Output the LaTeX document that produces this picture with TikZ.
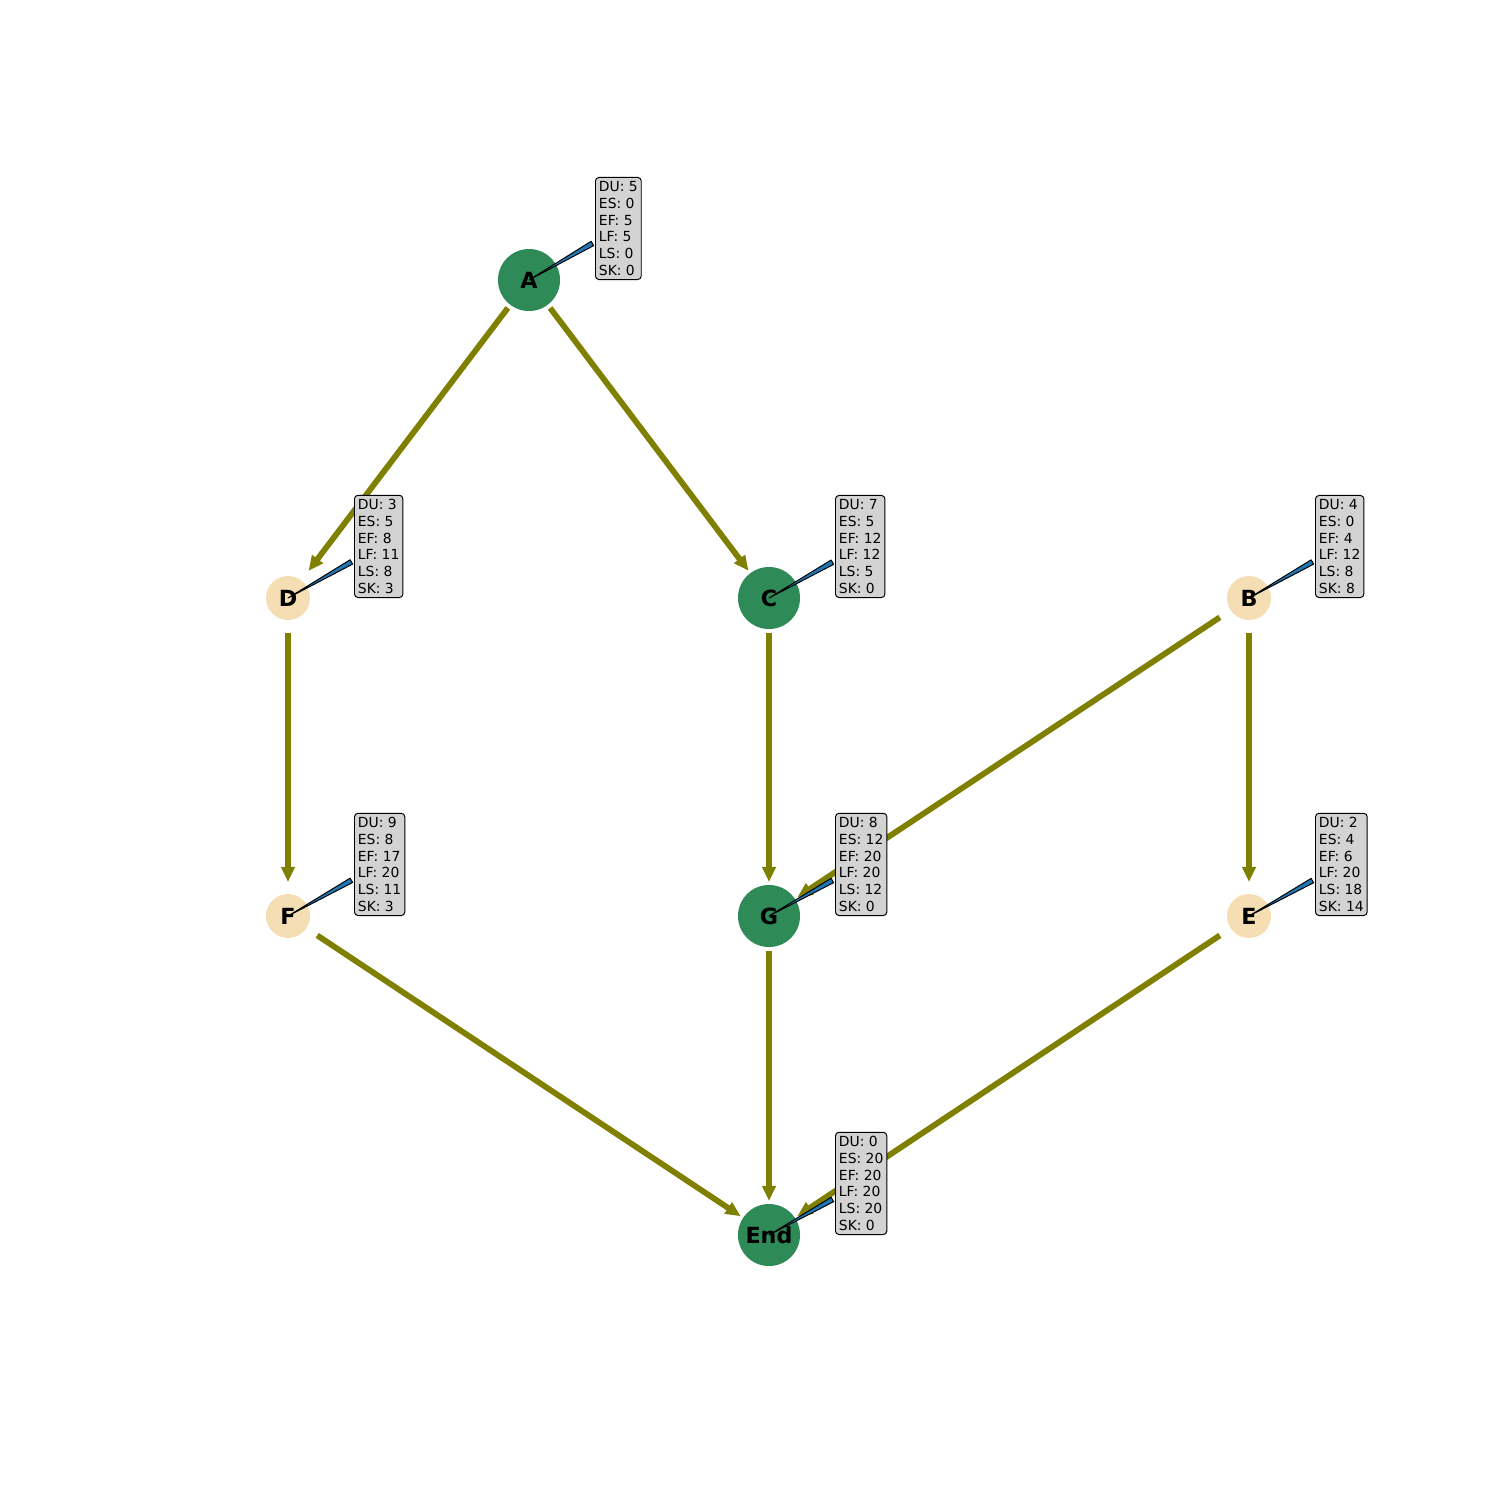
\documentclass[tikz,border=0pt]{standalone}
\usepackage{fontspec}
\setmainfont{DejaVu Sans}
\usetikzlibrary{arrows.meta,calc}
\definecolor{critc}{HTML}{2E8B57}
\definecolor{noncritc}{HTML}{F5DEB3}
\definecolor{edgec}{HTML}{808000}
\definecolor{infobg}{HTML}{D3D3D3}
\definecolor{wedgec}{HTML}{1F77B4}
\begin{document}
\begin{tikzpicture}[x=0.01in,y=-0.01in,
  critnode/.style={circle,fill=critc,minimum size=0.62in,inner sep=0pt,font=\fontsize{16bp}{19bp}\selectfont\bfseries},
  noncritnode/.style={circle,fill=noncritc,minimum size=0.44in,inner sep=0pt,font=\fontsize{16bp}{19bp}\selectfont\bfseries},
  flow/.style={draw=edgec,line width=0.058in,-{Triangle[length=0.15in,width=0.13in]},shorten >=0.34in,shorten <=0.35in},
  infobox/.style={draw=black,fill=infobg,rounded corners=2.5bp,line width=0.7bp,align=left,anchor=south west,inner xsep=2.5bp,inner ysep=3bp,font=\fontsize{10bp}{12bp}\selectfont},
  wedgeline/.style={fill=wedgec,draw=black,line width=0.7bp,line join=round}
]
\useasboundingbox (0,0) rectangle (1500,1500);
\fill[white] (0,0) rectangle (1500,1500);

% nodes
\node[critnode] (A) at (529,280) {A};
\node[noncritnode] (D) at (288,598) {D};
\node[critnode] (C) at (769,598) {C};
\node[noncritnode] (B) at (1249,598) {B};
\node[noncritnode] (F) at (288,916) {F};
\node[critnode] (G) at (769,916) {G};
\node[noncritnode] (E) at (1249,916) {E};
\node[critnode] (End) at (769,1235) {End};

% edges
\draw[flow] (A.center) -- (D.center);
\draw[flow] (A.center) -- (C.center);
\draw[flow] (D.center) -- (F.center);
\draw[flow] (C.center) -- (G.center);
\draw[flow] (B.center) -- (G.center);
\draw[flow] (B.center) -- (E.center);
\draw[flow] (F.center) -- (End.center);
\draw[flow] (G.center) -- (End.center);
\draw[flow] (E.center) -- (End.center);

% info boxes
\node[infobox] (iA) at (595,280) {DU: 5\\ES: 0\\EF: 5\\LF: 5\\LS: 0\\SK: 0};
\node[infobox] (iD) at (354,598) {DU: 3\\ES: 5\\EF: 8\\LF: 11\\LS: 8\\SK: 3};
\node[infobox] (iC) at (835,598) {DU: 7\\ES: 5\\EF: 12\\LF: 12\\LS: 5\\SK: 0};
\node[infobox] (iB) at (1315,598) {DU: 4\\ES: 0\\EF: 4\\LF: 12\\LS: 8\\SK: 8};
\node[infobox] (iF) at (354,916) {DU: 9\\ES: 8\\EF: 17\\LF: 20\\LS: 11\\SK: 3};
\node[infobox] (iG) at (835,916) {DU: 8\\ES: 12\\EF: 20\\LF: 20\\LS: 12\\SK: 0};
\node[infobox] (iE) at (1315,916) {DU: 2\\ES: 4\\EF: 6\\LF: 20\\LS: 18\\SK: 14};
\node[infobox] (iEnd) at (835,1235) {DU: 0\\ES: 20\\EF: 20\\LF: 20\\LS: 20\\SK: 0};

% wedges
\foreach \n in {A,D,C,B,F,G,E,End}{
  \path (\n.center) -- (i\n) coordinate[pos=1] (b\n);
  \coordinate (w\n) at ($(b\n)!0.03in!(\n.center)$);
  \filldraw[wedgeline] (\n.center) -- ($(w\n)!1.8bp!90:(\n.center)$) -- ($(w\n)!1.8bp!-90:(\n.center)$) -- cycle;
}
\end{tikzpicture}
\end{document}
